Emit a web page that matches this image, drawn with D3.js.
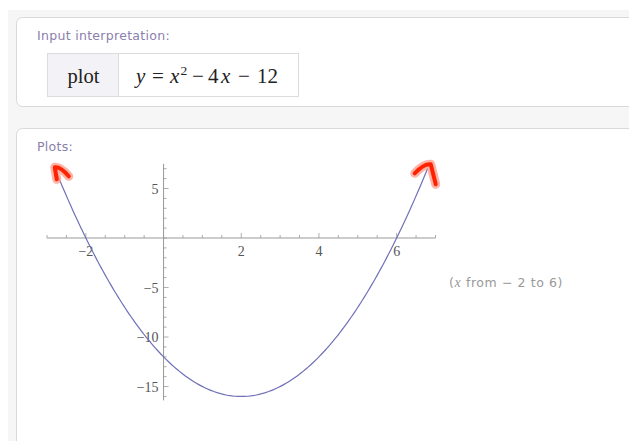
<!DOCTYPE html>
<html>
<head>
<meta charset="utf-8">
<script src="https://cdn.jsdelivr.net/npm/d3@7"></script>
<style>
  html, body { margin: 0; padding: 0; background: #fff; }
  svg { display: block; }
</style>
</head>
<body>
<svg id="page" width="629" height="441"></svg>
<script>
// y = a x^2 + b x + c
const coefficients = [1, -4, -12];
const plotRange = [-2.8, 6.8];          // x interval the curve is sampled on
const sampleCount = 200;
const xMajorTicks = [-2, 2, 4, 6];
const yMajorTicks = [5, -5, -10, -15];
const xDomain = [-3, 7];
const yDomain = [-16.4, 7.5];

const svg = d3.select("#page");

// page backdrop and the two pods
svg.append("rect").attr("x", 8).attr("y", 10).attr("width", 640).attr("height", 460).attr("fill", "#f6f6f6");
svg.append("rect").attr("x", 16.5).attr("y", 17.5).attr("width", 640).attr("height", 89).attr("rx", 6)
  .attr("fill", "#fff").attr("stroke", "#d9d9d9");
svg.append("rect").attr("x", 16.5).attr("y", 128.5).attr("width", 640).attr("height", 340).attr("rx", 6)
  .attr("fill", "#fff").attr("stroke", "#d9d9d9");

const sans = "'DejaVu Sans', Verdana, sans-serif";
const podTitle = { "font-family": sans, "font-size": "12.5px", fill: "#8a80ad", "letter-spacing": "0.3px" };
function styled(sel, st) { Object.entries(st).forEach(([k, v]) => sel.style(k, v)); return sel; }

styled(svg.append("text").attr("x", 37).attr("y", 40).text("Input interpretation:"), podTitle);
styled(svg.append("text").attr("x", 37).attr("y", 151).text("Plots:"), podTitle);

// input interpretation table
svg.append("rect").attr("x", 47.5).attr("y", 53.5).attr("width", 251).attr("height", 43)
  .attr("fill", "#fff").attr("stroke", "#dcdcdc");
svg.append("rect").attr("x", 48).attr("y", 54).attr("width", 70).attr("height", 42).attr("fill", "#f3f2f6");
svg.append("line").attr("x1", 118.5).attr("x2", 118.5).attr("y1", 53.5).attr("y2", 96.5).attr("stroke", "#dcdcdc");

const serif = "'Liberation Serif', 'Times New Roman', serif";
svg.append("text").attr("x", 83.5).attr("y", 83).attr("text-anchor", "middle")
  .style("font-family", serif).style("font-size", "20.5px").style("fill", "#222").text("plot");

// equation, each piece placed at its own x for math spacing
const eqParts = [
  { t: "y", x: 136, italic: true },
  { t: "=", x: 152 },
  { t: "x", x: 170, italic: true },
  { t: "2", x: 180.5, sup: true },
  { t: "\u2212", x: 192 },
  { t: "4", x: 208 },
  { t: "x", x: 221, italic: true },
  { t: "\u2212", x: 238 },
  { t: "12", x: 257 }
];
svg.selectAll(".eq").data(eqParts).join("text")
  .attr("x", d => d.x).attr("y", d => d.sup ? 75 : 83)
  .style("font-family", serif).style("font-size", d => d.sup ? "13.5px" : "21px")
  .style("font-style", d => d.italic ? "italic" : "normal").style("fill", "#222")
  .text(d => d.t);

// plot scales
const x = d3.scaleLinear().domain(xDomain).range([47, 435.5]);
const y = d3.scaleLinear().domain(yDomain).range([400.4, 163.75]);
const x0 = x(0), y0 = y(0);
const g = svg.append("g");

const axisColor = "#999";
const tickLabel = { "font-family": serif, "font-size": "14px", fill: "#555" };

// x axis with ticks pointing up
g.append("line").attr("x1", x(xDomain[0])).attr("x2", x(xDomain[1])).attr("y1", y0).attr("y2", y0)
  .attr("stroke", axisColor).attr("stroke-width", 1);
const xMinor = d3.range(-3, 7.01, 0.5);
g.selectAll(".xt").data(xMinor).join("line")
  .attr("x1", d => x(d)).attr("x2", d => x(d))
  .attr("y1", y0).attr("y2", d => y0 - (xMajorTicks.includes(d) ? 5 : 3))
  .attr("stroke", axisColor).attr("stroke-width", 0.8);
g.selectAll(".xl").data(xMajorTicks).join("text")
  .attr("x", d => x(d)).attr("y", y0 + 18).attr("text-anchor", "middle")
  .each(function() { styled(d3.select(this), tickLabel); })
  .text(d => d < 0 ? "\u2212" + Math.abs(d) : d);

// y axis with ticks pointing right
g.append("line").attr("x1", x0).attr("x2", x0).attr("y1", y(yDomain[1])).attr("y2", y(yDomain[0]))
  .attr("stroke", axisColor).attr("stroke-width", 1);
const yMinor = d3.range(-16, 7.01, 1);
g.selectAll(".yt").data(yMinor).join("line")
  .attr("x1", x0).attr("x2", d => x0 + (yMajorTicks.includes(d) ? 5 : 3))
  .attr("y1", d => y(d)).attr("y2", d => y(d))
  .attr("stroke", axisColor).attr("stroke-width", 0.8);
g.selectAll(".yl").data(yMajorTicks).join("text")
  .attr("x", x0 - 5).attr("y", d => y(d) + 5).attr("text-anchor", "end")
  .each(function() { styled(d3.select(this), tickLabel); })
  .text(d => d < 0 ? "\u2212" + Math.abs(d) : d);

// the parabola
const f = t => coefficients[0] * t * t + coefficients[1] * t + coefficients[2];
const pts = d3.range(sampleCount + 1).map(i => {
  const t = plotRange[0] + (plotRange[1] - plotRange[0]) * i / sampleCount;
  return [t, f(t)];
});
g.append("path").datum(pts)
  .attr("d", d3.line().x(d => x(d[0])).y(d => y(d[1])).curve(d3.curveLinear))
  .attr("fill", "none").attr("stroke", "#7070b8").attr("stroke-width", 1.2);

// red hand-drawn arrowheads at both curve ends
const ends = [
  { p: pts[0], tip: [0, -1], arms: [[14, 9], [2, 12]] },
  { p: pts[pts.length - 1], tip: [3, -4], arms: [[-16, 9], [5, 20]] }
];
ends.forEach(e => {
  const tx = x(e.p[0]) + e.tip[0], ty = y(e.p[1]) + e.tip[1];
  const d = `M${tx + e.arms[0][0]},${ty + e.arms[0][1]} Q${tx + e.arms[0][0] * 0.4},${ty - 1} ${tx},${ty} L${tx + e.arms[1][0]},${ty + e.arms[1][1]}`;
  g.append("path").attr("d", d).attr("fill", "none").attr("stroke", "#ff9a8a").attr("stroke-width", 9)
    .attr("stroke-linecap", "round").attr("stroke-linejoin", "round").attr("opacity", 0.75);
  g.append("path").attr("d", d).attr("fill", "none").attr("stroke", "#ff2200").attr("stroke-width", 4)
    .attr("stroke-linecap", "round").attr("stroke-linejoin", "round");
});

// range note
const note = svg.append("text").attr("x", 449).attr("y", 287)
  .style("font-family", sans).style("font-size", "12.5px").style("fill", "#999").style("letter-spacing", "0.6px");
note.append("tspan").text("(");
note.append("tspan").style("font-family", serif).style("font-style", "italic").style("font-size", "14px").text("x");
note.append("tspan").text(" from \u2212 2 to 6)");
</script>
</body>
</html>
